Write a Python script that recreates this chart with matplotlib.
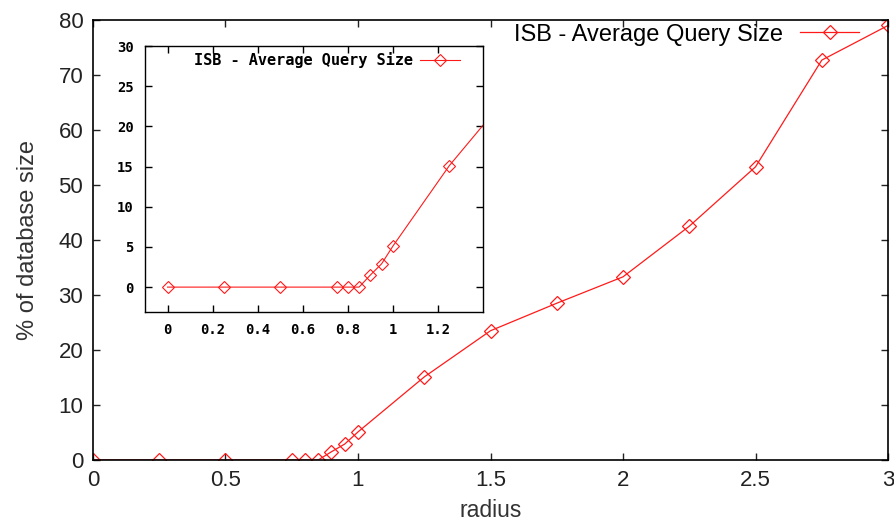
import matplotlib.pyplot as plt

# data
radius = [0, 0.25, 0.5, 0.75, 0.8, 0.85, 0.9, 0.95, 1.0, 1.25, 1.5, 1.75, 2.0, 2.25, 2.5, 2.75, 3.0]
query_size = [0, 0, 0, 0, 0, 0, 1.5, 2.9, 5.1, 15.1, 23.5, 28.5, 33.3, 42.5, 53.3, 72.7, 79]
label = "ISB - Average Query Size"

red = "#ff1a1a"
plt.rcParams['font.family'] = ['Liberation Sans', 'DejaVu Sans']

fig = plt.figure(figsize=(8.95, 5.23), dpi=100)

# main axes
ax = fig.add_axes([0.1039, 0.1205, 0.8883, 0.8413])
ax.plot(radius, query_size, color=red, lw=0.9, marker='D', ms=7,
        mfc='none', mec=red, mew=0.9, label=label)
ax.set_xlim(0, 3)
ax.set_ylim(0, 80)
ax.set_xticks([0, 0.5, 1, 1.5, 2, 2.5, 3])
ax.set_xticklabels(['0', '0.5', '1', '1.5', '2', '2.5', '3'])
ax.set_yticks(range(0, 81, 10))
ax.tick_params(direction='in', top=True, right=True, length=5, width=1,
               labelsize=16, colors='#222222', pad=7)
for s in ax.spines.values():
    s.set_linewidth(1.2)
ax.set_xlabel("radius", fontsize=16.5, labelpad=6, color='#333333')
ax.set_ylabel("% of database size", fontsize=17, labelpad=14, color='#333333')
ax.legend(loc='upper right', bbox_to_anchor=(0.968, 1.0), frameon=False,
          markerfirst=False, fontsize=17, handlelength=2.5, handletextpad=0.7,
          borderaxespad=0.0, borderpad=0.15)

# inset axes
ins = fig.add_axes([0.162, 0.4034, 0.3777, 0.5086])
ins.plot(radius, query_size, color=red, lw=0.8, marker='D', ms=6,
         mfc='none', mec=red, mew=0.8, label=label)
ins.set_xlim(-0.1, 1.4)
ins.set_ylim(-3.1, 30)
ins.set_xticks([0, 0.2, 0.4, 0.6, 0.8, 1, 1.2])
ins.set_xticklabels(['0', '0.2', '0.4', '0.6', '0.8', '1', '1.2'])
ins.set_yticks(range(0, 31, 5))
ins.tick_params(direction='in', top=True, right=True, length=5, width=1,
                labelsize=10, pad=8)
for t in ins.get_xticklabels() + ins.get_yticklabels():
    t.set_family(['DejaVu Sans Mono'])
    t.set_fontweight('bold')
for s in ins.spines.values():
    s.set_linewidth(1.0)
ins.legend(loc='upper right', bbox_to_anchor=(0.95, 1.0), frameon=False,
           markerfirst=False, handlelength=2.6, handletextpad=0.5,
           borderaxespad=0.1, borderpad=0.3,
           prop={'family': 'DejaVu Sans Mono', 'weight': 'bold', 'size': 11})

fig.savefig("out.png", dpi=100)
